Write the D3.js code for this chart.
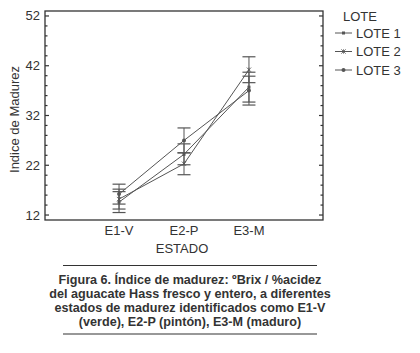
<!DOCTYPE html>
<html>
<head>
<meta charset="utf-8">
<script src="https://cdn.jsdelivr.net/npm/d3@7"></script>
<style>
  body { margin: 0; background: #fff; }
  svg { display: block; font-family: "Liberation Sans", Arial, sans-serif; }
</style>
</head>
<body>
<div id="chart"></div>
<script>
// Data
const estados = ["E1-V", "E2-P", "E3-M"];
const lotes = ["LOTE 1", "LOTE 2", "LOTE 3"];
const lote1 = [14.6, 24.2, 37.7];
const lote2 = [15.2, 22.3, 41.2];
const lote3 = [16.2, 27.0, 37.0];
const err1 = [2.1, 2.1, 3.0];
const err2 = [2.0, 2.2, 2.6];
const err3 = [2.0, 2.5, 2.9];
const yTicks = [12, 22, 32, 42, 52];
const caption = [
  "Figura 6. Índice de madurez: ºBrix / %acidez",
  "del aguacate Hass fresco y entero, a diferentes",
  "estados de madurez identificados como E1-V",
  "(verde), E2-P (pintón), E3-M (maduro)"
];

const width = 420, height = 353;
const plot = { left: 45, right: 323, top: 11, bottom: 220 };
const ink = "#333";
const lineColor = "#555";

const svg = d3.select("#chart").append("svg")
  .attr("width", width).attr("height", height);

// Scales
const x = d3.scalePoint().domain(estados)
  .range([plot.left, plot.right]).padding(1.14);
const y = d3.scaleLinear().domain([11, 53]).range([plot.bottom, plot.top]);

// Box
svg.append("rect")
  .attr("x", plot.left).attr("y", plot.top)
  .attr("width", plot.right - plot.left).attr("height", plot.bottom - plot.top)
  .attr("fill", "none").attr("stroke", ink).attr("stroke-width", 1.3);

// Ticks (inward on both sides), minor every 2
const minor = d3.range(12, 53, 2);
const tickG = svg.append("g").attr("stroke", ink).attr("stroke-width", 1.2);
minor.forEach(v => {
  const len = yTicks.includes(v) ? 4 : 2.5;
  tickG.append("line").attr("x1", plot.left).attr("x2", plot.left + len)
    .attr("y1", y(v)).attr("y2", y(v));
  tickG.append("line").attr("x1", plot.right).attr("x2", plot.right - len)
    .attr("y1", y(v)).attr("y2", y(v));
});

// Y tick labels
svg.append("g").selectAll("text").data(yTicks).enter().append("text")
  .attr("x", plot.left - 5).attr("y", d => y(d) + 4.5)
  .attr("text-anchor", "end").attr("font-size", 13).attr("fill", ink)
  .text(d => d);

// X tick labels
svg.append("g").selectAll("text").data(estados).enter().append("text")
  .attr("x", d => x(d)).attr("y", 235)
  .attr("text-anchor", "middle").attr("font-size", 13).attr("fill", ink)
  .text(d => d);

// Axis titles
svg.append("text").attr("x", x("E2-P") - 2).attr("y", 253)
  .attr("text-anchor", "middle").attr("font-size", 13).attr("fill", ink)
  .text("ESTADO");
svg.append("text")
  .attr("transform", `translate(19,${(plot.top + plot.bottom) / 2 + 4}) rotate(-90)`)
  .attr("text-anchor", "middle").attr("font-size", 13).attr("fill", ink)
  .text("Indice de Madurez");

// Series
const series = [
  { name: lotes[0], values: lote1, err: err1, marker: "square" },
  { name: lotes[1], values: lote2, err: err2, marker: "star" },
  { name: lotes[2], values: lote3, err: err3, marker: "circle" }
];

const line = d3.line().x((d, i) => x(estados[i])).y(d => y(d));

function drawMarker(g, kind, cx, cy) {
  if (kind === "square") {
    g.append("rect").attr("x", cx - 1.5).attr("y", cy - 1.5)
      .attr("width", 3).attr("height", 3).attr("fill", lineColor);
  } else if (kind === "circle") {
    g.append("circle").attr("cx", cx).attr("cy", cy).attr("r", 2)
      .attr("fill", lineColor);
  } else {
    const s = 2.2;
    g.append("path")
      .attr("d", `M${cx - s},${cy - s}L${cx + s},${cy + s}M${cx - s},${cy + s}L${cx + s},${cy - s}M${cx},${cy - s}L${cx},${cy + s}`)
      .attr("stroke", lineColor).attr("stroke-width", 0.8).attr("fill", "none");
  }
}

series.forEach(s => {
  const g = svg.append("g");
  g.append("path").datum(s.values).attr("d", line)
    .attr("fill", "none").attr("stroke", lineColor).attr("stroke-width", 1);
  s.values.forEach((v, i) => {
    const cx = x(estados[i]);
    const lo = y(v - s.err[i]), hi = y(v + s.err[i]);
    const cap = 6.5;
    g.append("line").attr("x1", cx).attr("x2", cx).attr("y1", lo).attr("y2", hi)
      .attr("stroke", lineColor).attr("stroke-width", 1);
    [lo, hi].forEach(yy => {
      g.append("line").attr("x1", cx - cap).attr("x2", cx + cap)
        .attr("y1", yy).attr("y2", yy)
        .attr("stroke", lineColor).attr("stroke-width", 1.2);
    });
    drawMarker(g, s.marker, cx, y(v));
  });
});

// Legend
svg.append("text").attr("x", 343).attr("y", 21)
  .attr("font-size", 13).attr("fill", ink).text("LOTE");
series.forEach((s, i) => {
  const ly = 33 + i * 18.5;
  const g = svg.append("g");
  g.append("line").attr("x1", 335).attr("x2", 352).attr("y1", ly).attr("y2", ly)
    .attr("stroke", lineColor).attr("stroke-width", 1);
  drawMarker(g, s.marker, 343.5, ly);
  g.append("text").attr("x", 356).attr("y", ly + 4.5)
    .attr("font-size", 13).attr("fill", ink).text(s.name);
});

// Caption
svg.append("line").attr("x1", 63).attr("x2", 317).attr("y1", 265.5).attr("y2", 265.5)
  .attr("stroke", ink).attr("stroke-width", 1.2);
svg.append("line").attr("x1", 63).attr("x2", 317).attr("y1", 334).attr("y2", 334)
  .attr("stroke", ink).attr("stroke-width", 1.2);
svg.append("g").selectAll("text").data(caption).enter().append("text")
  .attr("x", 190).attr("y", (d, i) => 283.5 + i * 14)
  .attr("text-anchor", "middle").attr("font-size", 12.6).attr("font-weight", "bold")
  .attr("fill", ink).text(d => d);
</script>
</body>
</html>
